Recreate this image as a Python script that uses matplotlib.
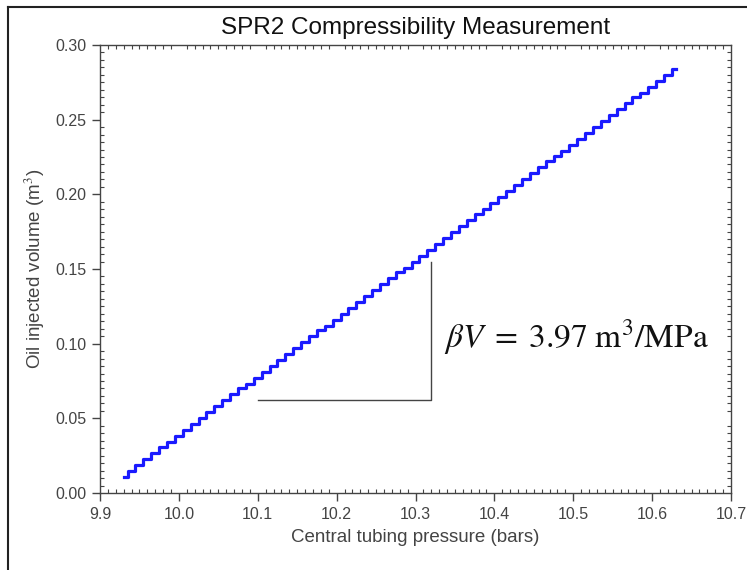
import numpy as np
import matplotlib.pyplot as plt
from matplotlib.ticker import MultipleLocator
from matplotlib.lines import Line2D

plt.rcParams['font.family'] = ['Liberation Sans', 'DejaVu Sans']
plt.rcParams['mathtext.fontset'] = 'stix'

# central tubing pressure (bars) and injected oil volume (m3)
pressure = [9.93, 9.94, 9.95, 9.96, 9.97, 9.98, 9.99, 10.00, 10.01, 10.02,
            10.03, 10.04, 10.05, 10.06, 10.07, 10.08, 10.09, 10.10, 10.11, 10.12,
            10.13, 10.14, 10.15, 10.16, 10.17, 10.18, 10.19, 10.20, 10.21, 10.22,
            10.23, 10.24, 10.25, 10.26, 10.27, 10.28, 10.29, 10.30, 10.31, 10.32,
            10.33, 10.34, 10.35, 10.36, 10.37, 10.38, 10.39, 10.40, 10.41, 10.42,
            10.43, 10.44, 10.45, 10.46, 10.47, 10.48, 10.49, 10.50, 10.51, 10.52,
            10.53, 10.54, 10.55, 10.56, 10.57, 10.58, 10.59, 10.60, 10.61, 10.62,
            10.63]
volume = [0.011, 0.015, 0.019, 0.023, 0.027, 0.031, 0.034, 0.038, 0.042, 0.046,
          0.050, 0.054, 0.058, 0.062, 0.066, 0.070, 0.073, 0.077, 0.081, 0.085,
          0.089, 0.093, 0.097, 0.101, 0.105, 0.109, 0.112, 0.116, 0.120, 0.124,
          0.128, 0.132, 0.136, 0.140, 0.144, 0.148, 0.151, 0.155, 0.159, 0.163,
          0.167, 0.171, 0.175, 0.179, 0.183, 0.187, 0.190, 0.194, 0.198, 0.202,
          0.206, 0.210, 0.214, 0.218, 0.222, 0.226, 0.229, 0.233, 0.237, 0.241,
          0.245, 0.249, 0.253, 0.257, 0.261, 0.265, 0.268, 0.272, 0.276, 0.280,
          0.284]

# slope triangle corners
tri_x = [10.10, 10.32, 10.32]
tri_y = [0.0625, 0.0625, 0.155]

fig = plt.figure(figsize=(7.47, 5.70), dpi=100)
ax = fig.add_axes([100/747, 1 - 493/570, 631/747, 448/570])

ax.step(pressure, volume, where='mid', color='#1a1aff', lw=2.3)
ax.plot(tri_x, tri_y, color='#444444', lw=1.0)

ax.text(10.336, 0.104, r'$\beta V \;=\; 3.97\ \mathrm{m^3/MPa}$',
        fontsize=24, va='center', ha='left', color='#111111')

ax.set_xlim(9.9, 10.7)
ax.set_ylim(0.0, 0.30)
ax.xaxis.set_major_locator(MultipleLocator(0.1))
ax.xaxis.set_minor_locator(MultipleLocator(0.01))
ax.yaxis.set_major_locator(MultipleLocator(0.05))
ax.yaxis.set_minor_locator(MultipleLocator(0.005))
ax.xaxis.set_major_formatter(plt.FormatStrFormatter('%.1f'))
ax.yaxis.set_major_formatter(plt.FormatStrFormatter('%.2f'))

ax.tick_params(which='major', direction='out', length=6, width=1.0,
               color='#444444', labelcolor='#444444', labelsize=11.5, pad=4)
ax.tick_params(which='minor', direction='in', length=3, width=0.8,
               color='#444444', top=True, right=True)
for s in ax.spines.values():
    s.set_color('#444444')
    s.set_linewidth(1.0)

ax.set_xlabel('Central tubing pressure (bars)', fontsize=13.5, color='#444444',
              labelpad=5)
ax.set_ylabel('Oil injected volume (m$^3$)', fontsize=13.5, color='#444444',
              labelpad=6)
ax.set_title('SPR2 Compressibility Measurement', fontsize=17.5, color='#111111',
             pad=8)

# outer frame (top and left edges only visible)
fig.add_artist(Line2D([8/747, 1], [1 - 7/570, 1 - 7/570], color='#222222',
                      lw=1.5, transform=fig.transFigure))
fig.add_artist(Line2D([8/747, 8/747], [0, 1 - 7/570], color='#222222',
                      lw=1.5, transform=fig.transFigure))

fig.savefig('out.png', dpi=100)
